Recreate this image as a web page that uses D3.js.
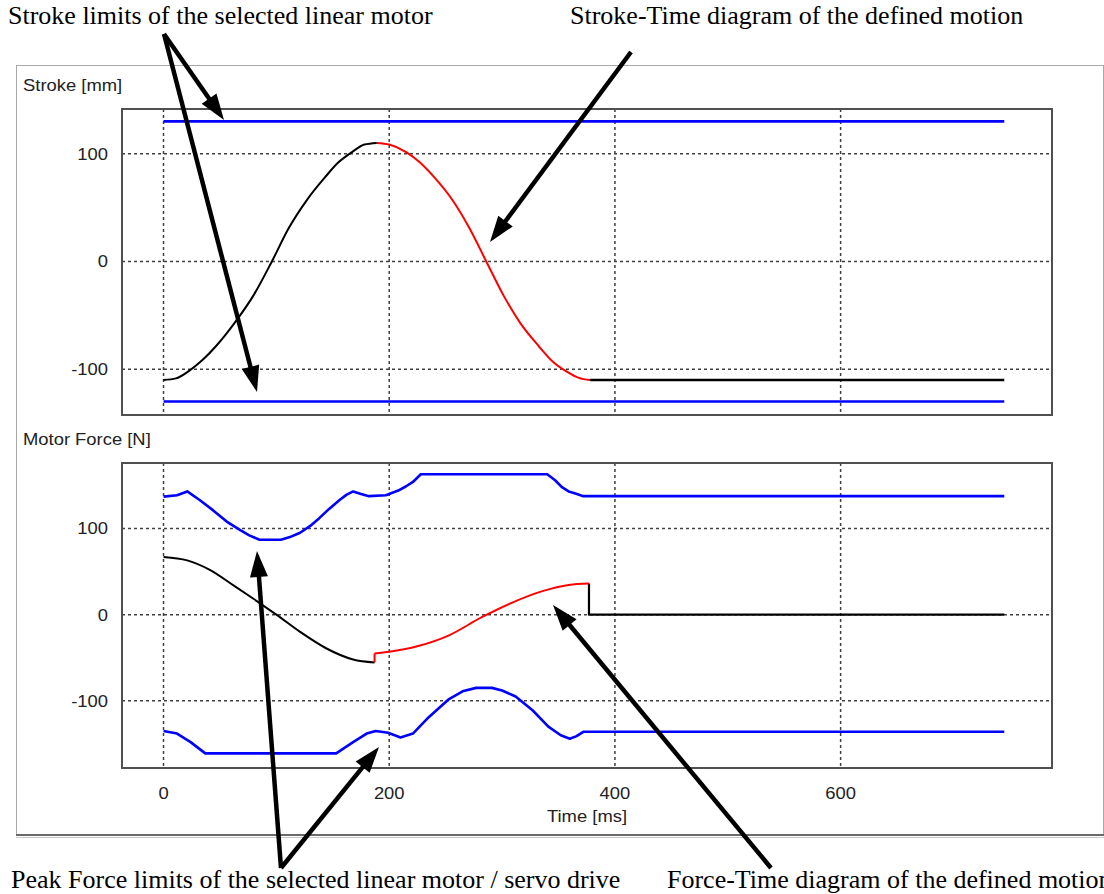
<!DOCTYPE html>
<html>
<head>
<meta charset="utf-8">
<title>Stroke and Motor Force over Time</title>
<script src="https://d3js.org/d3.v7.min.js"></script>
<style>
  body { margin: 0; background: #fff; }
  .note { font-family: 'Liberation Serif', 'Times New Roman', serif; font-size: 26px; fill: #000; }
  .lbl { font-family: 'Liberation Sans', Arial, sans-serif; font-size: 16px; fill: #222; }
  .grid { stroke: #404040; stroke-width: 1.5; stroke-dasharray: 3,3; }
  .frame { fill: none; stroke: #505050; stroke-width: 2; }
</style>
</head>
<body>
<svg id="chart" width="1104" height="894"></svg>
<script>
// ticks
var xTicks = [0, 200, 400, 600];
var yTicks = [-100, 0, 100];

// stroke limits of the motor [mm]
var strokeLimT = [0, 745];
var strokeLimUp = [130, 130];
var strokeLimLo = [-130, -130];

// stroke-time of the motion [mm]
var strokeBlackT = [0, 11, 22, 34, 47, 63, 80, 96, 111, 127, 143, 155, 167, 178, 189];
var strokeBlackV = [-110, -108.5, -102, -92, -78, -57, -31, 0, 31, 57, 78, 92, 101.5, 108.5, 110];
var strokeRedT = [189, 200, 215, 227, 240, 256, 271, 286, 301, 316, 332, 345, 357, 368, 378];
var strokeRedV = [110, 108.5, 101.5, 92, 78, 57, 31, 0, -31, -57, -78, -93, -102, -108, -110];
var strokeRestT = [378, 745];
var strokeRestV = [-110, -110];

// peak force limits [N]
var forceUpT = [0, 12, 21, 32, 44, 56, 68, 76, 85, 104, 112, 121, 130, 138, 147, 156, 162, 168, 175, 182, 197, 208, 215, 221, 228, 340, 347, 353, 359, 365, 372, 745];
var forceUpV = [137, 138.5, 143, 133, 121, 108, 98, 92, 87, 87, 90, 95, 103, 112, 123, 133, 139, 143, 140, 137.5, 138.5, 144, 149, 154, 163, 163, 156, 148, 143, 140.5, 137.5, 137.5];
var forceLoT = [0, 12, 24, 37, 153, 160, 168, 180, 188, 199, 210, 221, 235, 253, 265, 277, 291, 300, 312, 327, 341, 352, 360, 366, 372, 745];
var forceLoV = [-135, -138, -148, -161, -161, -155, -148, -138, -135, -137, -142.5, -138, -119, -98, -89, -85, -85, -88, -95, -111, -130, -140, -144, -141, -136, -136];

// force-time of the motion [N]
var forceBlackT = [0, 21, 41, 62, 79, 100, 121, 144, 168, 187];
var forceBlackV = [67, 63, 52, 34, 19, 0, -20, -39, -52, -55.5];
var forceStepT = [187, 187];
var forceStepV = [-55.5, -45];
var forceRedT = [187, 200, 224, 253, 282, 309, 335, 359, 377];
var forceRedV = [-45, -43, -37, -24, -3, 14, 27, 34.5, 36];
var forceRestT = [377, 377, 745];
var forceRestV = [36, 0, 0];

// annotations: text and arrows
var notes = [
  { text: "Stroke limits of the selected linear motor", x: 8, y: 24 },
  { text: "Stroke-Time diagram of the defined motion", x: 570, y: 24 },
  { text: "Peak Force limits of the selected linear motor / servo drive", x: 11, y: 888 },
  { text: "Force-Time diagram of the defined motion", x: 667, y: 888 }
];
var arrows = [
  [164, 34, 224, 120],
  [164, 34, 257, 392],
  [631, 52, 490, 242],
  [281, 868, 257, 551],
  [281, 868, 379, 747],
  [771, 868, 553, 605]
];

var svg = d3.select("#chart");
svg.append("rect").attr("width", 1104).attr("height", 894).attr("fill", "#fff");

// outer window frame
svg.append("rect").attr("x", 16.5).attr("y", 65.5).attr("width", 1087).attr("height", 770)
  .attr("fill", "none").attr("stroke", "#a8a8a8");
svg.append("line").attr("x1", 16).attr("x2", 1104).attr("y1", 835).attr("y2", 835)
  .attr("stroke", "#6a6a6a").attr("stroke-width", 2);
svg.append("line").attr("x1", 16).attr("x2", 1104).attr("y1", 837.5).attr("y2", 837.5)
  .attr("stroke", "#c8c8c8").attr("stroke-width", 1);

var x = d3.scaleLinear().domain([-36.8, 787.3]).range([122, 1052]);
var yS = d3.scaleLinear().domain([-142.5, 141.5]).range([415, 109]);
var yF = d3.scaleLinear().domain([-178, 176]).range([768, 463]);

function label(txt, px, py, anchor) {
  svg.append("text").attr("class", "lbl")
    .attr("transform", "translate(" + px + "," + py + ") scale(1.15,1)")
    .attr("text-anchor", anchor || "start")
    .text(txt);
}

function panel(y, title, titleY) {
  var r = y.range();
  var g = svg.append("g");
  g.append("rect").attr("x", x.range()[0]).attr("y", r[1])
    .attr("width", x.range()[1] - x.range()[0]).attr("height", r[0] - r[1])
    .attr("fill", "#fff");
  xTicks.forEach(function (t) {
    g.append("line").attr("class", "grid")
      .attr("x1", x(t)).attr("x2", x(t)).attr("y1", r[1]).attr("y2", r[0]);
  });
  yTicks.forEach(function (t) {
    g.append("line").attr("class", "grid")
      .attr("x1", x.range()[0]).attr("x2", x.range()[1]).attr("y1", y(t)).attr("y2", y(t));
    label(String(t), 108, y(t) + 6, "end");
  });
  label(title, 23, titleY);
  return g;
}

function series(g, y, ts, vs, color, width, curve) {
  var pts = ts.map(function (t, i) { return [t, vs[i]]; });
  var line = d3.line().x(function (d) { return x(d[0]); }).y(function (d) { return y(d[1]); })
    .curve(curve || d3.curveLinear);
  g.append("path").datum(pts).attr("d", line)
    .attr("fill", "none").attr("stroke", color).attr("stroke-width", width)
    .attr("stroke-linejoin", "round");
}

var gS = panel(yS, "Stroke [mm]", 91);
series(gS, yS, strokeLimT, strokeLimUp, "#0000ff", 2.6);
series(gS, yS, strokeLimT, strokeLimLo, "#0000ff", 2.6);
series(gS, yS, strokeBlackT, strokeBlackV, "#000", 2, d3.curveMonotoneX);
series(gS, yS, strokeRestT, strokeRestV, "#000", 2.4);
series(gS, yS, strokeRedT, strokeRedV, "#ff0000", 2, d3.curveMonotoneX);
gS.append("rect").attr("class", "frame").attr("x", 122).attr("y", 109).attr("width", 930).attr("height", 306);

var gF = panel(yF, "Motor Force [N]", 445);
series(gF, yF, forceUpT, forceUpV, "#0000ff", 2.6);
series(gF, yF, forceLoT, forceLoV, "#0000ff", 2.6);
series(gF, yF, forceBlackT, forceBlackV, "#000", 2, d3.curveMonotoneX);
series(gF, yF, forceRestT, forceRestV, "#000", 2.2);
series(gF, yF, forceStepT, forceStepV, "#ff0000", 2);
series(gF, yF, forceRedT, forceRedV, "#ff0000", 2, d3.curveMonotoneX);
gF.append("rect").attr("class", "frame").attr("x", 122).attr("y", 463).attr("width", 930).attr("height", 305);

// time axis labels
xTicks.forEach(function (t) { label(String(t), x(t), 799, "middle"); });
label("Time [ms]", 587, 822, "middle");

// annotations
notes.forEach(function (n) {
  svg.append("text").attr("class", "note").attr("x", n.x).attr("y", n.y).text(n.text);
});
arrows.forEach(function (a) {
  var dx = a[2] - a[0], dy = a[3] - a[1];
  var len = Math.sqrt(dx * dx + dy * dy), ux = dx / len, uy = dy / len;
  var hl = 26, hw = 9;
  var bx = a[2] - ux * hl, by = a[3] - uy * hl;
  svg.append("line").attr("x1", a[0]).attr("y1", a[1])
    .attr("x2", bx + ux * 2).attr("y2", by + uy * 2)
    .attr("stroke", "#000").attr("stroke-width", 4.5);
  svg.append("polygon")
    .attr("points", [[a[2], a[3]], [bx - uy * hw, by + ux * hw], [bx + uy * hw, by - ux * hw]].join(" "))
    .attr("fill", "#000");
});
</script>
</body>
</html>
